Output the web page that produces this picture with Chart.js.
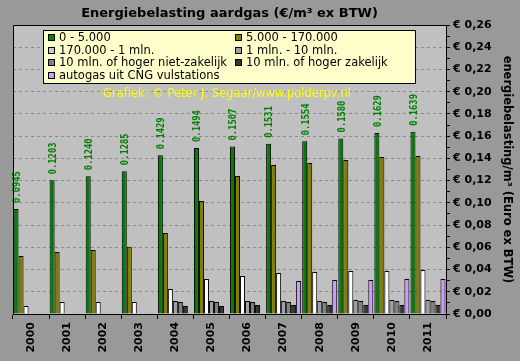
<!DOCTYPE html>
<html>
<head>
<meta charset="utf-8">
<script src="https://cdn.jsdelivr.net/npm/chart.js@4.4.0/dist/chart.umd.min.js"></script>
<style>
body { margin: 0; background: #999999; }
</style>
</head>
<body>
<canvas id="grafiek" width="520" height="361"></canvas>
<script>
// jaren en tarieven (euro per m3, ex BTW)
const jaren = ['2000', '2001', '2002', '2003', '2004', '2005', '2006', '2007', '2008', '2009', '2010', '2011'];
const schijf1 = [0.0945, 0.1203, 0.1240, 0.1285, 0.1429, 0.1494, 0.1507, 0.1531, 0.1554, 0.1580, 0.1629, 0.1639];
const schijf2 = [0.0522, 0.0558, 0.0576, 0.0606, 0.0729, 0.1017, 0.1242, 0.1340, 0.1359, 0.1386, 0.1412, 0.1421];
const schijf3 = [0.0072, 0.0108, 0.0108, 0.0108, 0.0225, 0.0315, 0.0342, 0.0369, 0.0378, 0.0387, 0.0387, 0.0396];
const schijf4 = [null, null, null, null, 0.0117, 0.0117, 0.0117, 0.0117, 0.0117, 0.0126, 0.0126, 0.0126];
const schijf5 = [null, null, null, null, 0.0108, 0.0108, 0.0108, 0.0108, 0.0108, 0.0117, 0.0117, 0.0117];
const schijf6 = [null, null, null, null, 0.0072, 0.0072, 0.0081, 0.0081, 0.0081, 0.0081, 0.0081, 0.0081];
const cng = [null, null, null, null, null, null, null, 0.0297, 0.0306, 0.0306, 0.0315, 0.0315];
const namen = ['0 - 5.000', '5.000 - 170.000', '170.000 - 1 mln.', '1 mln. - 10 mln.',
  '10 mln. of hoger niet-zakelijk', '10 mln. of hoger zakelijk', 'autogas uit CNG vulstations'];

const titel = 'Energiebelasting aardgas (€/m³ ex BTW)';
const bron = 'Grafiek: © Peter J. Segaar/www.polderpv.nl';

const kleuren = ['#008000', '#808000', '#ffffff', '#a0a0a0', '#808080', '#333333', '#cc99ff'];
const vakjes = ['#008000', '#808000', '#c8c8c8', '#a0a0a0', '#808080', '#333333', '#cc99ff'];
const reeksen = [schijf1, schijf2, schijf3, schijf4, schijf5, schijf6, cng];

const datasets = reeksen.map((r, i) => ({
  label: namen[i],
  data: r,
  backgroundColor: kleuren[i],
  borderColor: '#000000',
  borderWidth: 1,
  borderSkipped: 'bottom',
  barPercentage: 1,
  categoryPercentage: 0.97
}));

// achtergrond en kader
const achtergrond = {
  id: 'achtergrond',
  beforeDraw(chart) {
    const ctx = chart.ctx, a = chart.chartArea;
    ctx.save();
    ctx.fillStyle = '#999999';
    ctx.fillRect(0, 0, chart.width, chart.height);
    ctx.fillStyle = '#c0c0c0';
    ctx.fillRect(a.left, a.top, a.right - a.left, a.bottom - a.top);
    ctx.restore();
  },
  afterDraw(chart) {
    const ctx = chart.ctx, a = chart.chartArea;
    ctx.save();
    ctx.strokeStyle = '#000';
    ctx.lineWidth = 1;
    ctx.beginPath();
    ctx.moveTo(a.left + 0.5, a.bottom);
    ctx.lineTo(a.left + 0.5, a.top + 0.5);
    ctx.lineTo(a.right, a.top + 0.5);
    ctx.stroke();
    // titel
    ctx.fillStyle = '#000';
    ctx.font = 'bold 13px "DejaVu Sans"';
    ctx.textAlign = 'center';
    ctx.textBaseline = 'middle';
    ctx.fillText(titel, (a.left + a.right) / 2, 14);
    ctx.restore();
  }
};

// waarden boven de groene staven
const waarden = {
  id: 'waarden',
  afterDatasetsDraw(chart) {
    const ctx = chart.ctx;
    const meta = chart.getDatasetMeta(0);
    ctx.save();
    ctx.fillStyle = '#008000';
    ctx.font = 'bold 11px "DejaVu Sans Mono"';
    ctx.textAlign = 'left';
    ctx.textBaseline = 'middle';
    meta.data.forEach((el, i) => {
      ctx.save();
      ctx.translate(el.x + 1, el.y - 6);
      ctx.rotate(-Math.PI / 2);
      ctx.scale(0.8, 1);
      ctx.fillText(schijf1[i].toFixed(4), 0, 0);
      ctx.restore();
    });
    ctx.restore();
  }
};

// legenda in het plotvlak
const legenda = {
  id: 'legenda',
  afterDraw(chart) {
    const ctx = chart.ctx;
    ctx.save();
    ctx.fillStyle = '#ffffcc';
    ctx.fillRect(43, 30, 372, 53);
    ctx.strokeStyle = '#000';
    ctx.lineWidth = 1;
    ctx.strokeRect(43.5, 30.5, 372, 53);
    ctx.font = '11.5px "DejaVu Sans"';
    ctx.textBaseline = 'middle';
    chart.data.datasets.forEach((ds, i) => {
      const x = (i % 2) ? 235 : 48;
      const y = Math.round(37 + Math.floor(i / 2) * 12.7);
      ctx.fillStyle = vakjes[i];
      ctx.fillRect(x, y - 3, 7, 7);
      ctx.strokeRect(x + 0.5, y - 2.5, 6, 6);
      ctx.fillStyle = '#000';
      ctx.fillText(ds.label, x + 11, y + 1);
    });
    ctx.fillStyle = '#ffff00';
    ctx.textAlign = 'center';
    ctx.fillText(bron, 227, 94);
    ctx.restore();
  }
};

const even = v => Math.round(v * 100) % 2 === 0;

new Chart(document.getElementById('grafiek'), {
  type: 'bar',
  data: { labels: jaren, datasets: datasets },
  plugins: [achtergrond, waarden, legenda],
  options: {
    responsive: false,
    animation: false,
    layout: { padding: { left: 13, top: 25, right: 0, bottom: 0 } },
    plugins: {
      legend: { display: false },
      title: { display: false },
      tooltip: { enabled: false }
    },
    scales: {
      x: {
        afterFit(s) { s.height = 47; },
        grid: { offset: true, drawOnChartArea: false, tickLength: 5, tickColor: '#000' },
        border: { color: '#000' },
        ticks: {
          color: '#000',
          font: { family: 'DejaVu Sans', size: 11, weight: 'bold' },
          maxRotation: 90, minRotation: 90, padding: 3, autoSkip: false
        }
      },
      y: {
        position: 'right',
        min: 0, max: 0.26,
        afterFit(s) { s.width = 74; },
        grid: {
          color: c => (c.tick && even(c.tick.value) && c.tick.value > 0.001 && c.tick.value < 0.259) ? '#8a8a8a' : 'rgba(0,0,0,0)',
          tickColor: '#000',
          tickLength: 4
        },
        border: { color: '#000', dash: [3, 3] },
        ticks: {
          stepSize: 0.01,
          autoSkip: false,
          padding: 3,
          color: '#000',
          font: { family: 'DejaVu Sans', size: 11, weight: 'bold' },
          callback: v => even(v) ? '€ ' + v.toFixed(2).replace('.', ',') : ''
        },
        title: {
          display: true,
          text: 'energiebelasting/m³ (Euro ex BTW)',
          color: '#000',
          font: { family: 'DejaVu Sans', size: 11.5, weight: 'bold' },
          padding: { top: 6, bottom: 0 }
        }
      }
    }
  }
});
</script>
</body>
</html>
